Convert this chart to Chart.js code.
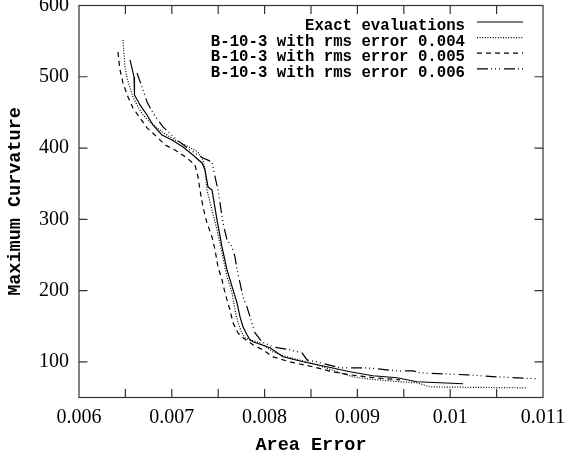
<!DOCTYPE html>
<html><head><meta charset="utf-8">
<script src="https://cdn.jsdelivr.net/npm/chart.js@4/dist/chart.umd.min.js"></script>
<style>html,body{margin:0;padding:0;background:#fff}#wrap{width:565px;height:456px}</style>
</head><body><div id="wrap"><canvas id="c" width="565" height="456"></canvas></div>
<script>
const seriesLabels = ['Exact evaluations', 'B-10-3 with rms error 0.004', 'B-10-3 with rms error 0.005', 'B-10-3 with rms error 0.006'];

const exactX = [0.006550,0.006593,0.006593,0.006603,0.006657,0.006733,0.006797,0.006894,0.007002,0.007121,0.007228,0.007325,0.007358,0.007390,0.007433,0.007487,0.007541,0.007595,0.007660,0.007703,0.007735,0.007767,0.007810,0.007843,0.007875,0.008058,0.008198,0.008414,0.008672,0.008920,0.009168,0.009427,0.009642,0.010138];
const exactY = [523.6,499.7,485.7,474.5,460.5,446.4,432.4,418.4,411.4,401.5,390.3,379.1,369.3,345.5,341.2,299.2,261.3,229.1,201.0,182.8,163.2,149.2,138.0,131.0,128.2,119.8,107.1,100.2,93.1,86.1,80.5,77.7,72.1,69.3];

const rms004X = [0.006474,0.006485,0.006496,0.006517,0.006550,0.006582,0.006636,0.006690,0.006765,0.006841,0.006927,0.007035,0.007164,0.007282,0.007336,0.007358,0.007379,0.007433,0.007487,0.007541,0.007595,0.007649,0.007681,0.007713,0.007756,0.007789,0.007843,0.007950,0.008091,0.008241,0.008457,0.008629,0.008813,0.008953,0.009103,0.009459,0.009642,0.009782,0.010828];
const rms004Y = [551.6,530.6,513.7,498.3,484.3,471.7,457.6,446.4,436.6,428.2,419.8,411.4,402.9,394.5,383.3,369.3,341.2,313.2,285.1,252.9,219.2,196.8,172.9,154.7,140.7,133.7,131.0,126.7,114.0,107.0,100.0,93.0,84.6,79.0,76.2,72.0,70.6,64.9,63.5];

const rms005X = [0.006420,0.006431,0.006442,0.006474,0.006528,0.006582,0.006657,0.006733,0.006841,0.006927,0.007035,0.007164,0.007250,0.007282,0.007304,0.007336,0.007379,0.007433,0.007466,0.007498,0.007541,0.007573,0.007627,0.007660,0.007713,0.007767,0.007875,0.007983,0.008091,0.008274,0.008522,0.008737,0.008920,0.009190,0.009459];
const rms005Y = [534.8,520.8,509.5,491.3,471.7,456.2,442.2,428.2,415.6,404.4,397.3,386.1,376.3,359.5,341.2,317.4,294.9,275.3,257.1,233.2,215.0,196.8,172.9,154.7,140.7,133.7,123.9,116.8,107.0,100.0,93.0,86.0,81.8,77.6,74.8];

const rms006X = [0.006625,0.006679,0.006733,0.006797,0.006905,0.007056,0.007196,0.007336,0.007433,0.007466,0.007498,0.007519,0.007552,0.007595,0.007649,0.007681,0.007703,0.007735,0.007767,0.007810,0.007843,0.007875,0.007897,0.007972,0.008091,0.008274,0.008403,0.008457,0.008565,0.008813,0.009103,0.009427,0.009599,0.009675,0.010181,0.010504,0.010946];
const rms006Y = [505.3,485.7,464.7,449.2,429.6,411.4,397.3,386.1,380.5,359.5,341.2,323.0,294.9,271.1,261.3,247.3,229.0,210.8,191.2,177.1,163.1,149.2,140.7,128.1,121.0,116.8,112.6,102.7,100.0,91.6,91.6,87.4,87.4,84.6,81.8,79.0,76.2];

const xTickValues = [0.006,0.0065,0.007,0.0075,0.008,0.0085,0.009,0.0095,0.010,0.0105,0.011];
const xTickLabels = ['0.006','','0.007','','0.008','','0.009','','0.01','','0.011'];
const yTickValues = [100,200,300,400,500,600];
const yTickLabels = ['100','200','300','400','500','600'];

const toPts = (xs, ys) => xs.map((v, i) => ({x: v, y: ys[i]}));

const framePlugin = {
  id: 'frame',
  afterDatasetsDraw(chart) {
    const {ctx, chartArea: a, scales: {x, y}} = chart;
    ctx.save();
    ctx.strokeStyle = '#333';
    ctx.lineWidth = 1.2;
    ctx.setLineDash([]);
    ctx.strokeRect(a.left, a.top, a.right - a.left, a.bottom - a.top);
    const L = 8.5;
    ctx.beginPath();
    x.ticks.forEach(t => {
      const p = x.getPixelForValue(t.value);
      if (p <= a.left + 1 || p >= a.right - 1) return;
      ctx.moveTo(p, a.bottom); ctx.lineTo(p, a.bottom - L);
      ctx.moveTo(p, a.top); ctx.lineTo(p, a.top + L);
    });
    y.ticks.forEach(t => {
      const p = y.getPixelForValue(t.value);
      if (p <= a.top + 1 || p >= a.bottom - 1) return;
      ctx.moveTo(a.left, p); ctx.lineTo(a.left + L, p);
      ctx.moveTo(a.right, p); ctx.lineTo(a.right - L, p);
    });
    ctx.stroke();
    ctx.font = 'bold 15.7px "Liberation Mono"';
    ctx.textAlign = 'right';
    ctx.textBaseline = 'middle';
    ctx.fillStyle = '#000';
    chart.data.datasets.forEach((ds, i) => {
      const ty = a.top + 20.5 + i * 15.6;
      ctx.fillText(ds.label, a.right - 78, ty);
      ctx.beginPath();
      ctx.setLineDash(ds.borderDash || []);
      ctx.lineWidth = ds.borderWidth;
      ctx.strokeStyle = ds.borderColor;
      ctx.moveTo(a.right - 66, ty - 4);
      ctx.lineTo(a.right - 20, ty - 4);
      ctx.stroke();
    });
    ctx.restore();
  }
};

const mk = (label, pts, dash) => ({
  label, data: pts, showLine: true, borderColor: '#000', backgroundColor: '#000',
  borderWidth: 1.2, borderDash: dash, pointRadius: 0, tension: 0, fill: false
});

new Chart(document.getElementById('c'), {
  type: 'scatter',
  data: {
    datasets: [
      mk(seriesLabels[0], toPts(exactX, exactY), []),
      mk(seriesLabels[1], toPts(rms004X, rms004Y), [1, 1.6]),
      mk(seriesLabels[2], toPts(rms005X, rms005Y), [5, 4]),
      mk(seriesLabels[3], toPts(rms006X, rms006Y), [11, 3, 1, 3, 1, 3, 1, 4])
    ]
  },
  options: {
    responsive: false,
    animation: false,
    devicePixelRatio: 1,
    layout: {padding: {left: 0, top: 5.5, right: 22, bottom: 0}},
    plugins: {legend: {display: false}, tooltip: {enabled: false}},
    scales: {
      x: {
        type: 'linear', min: 0.006, max: 0.011,
        afterBuildTicks: s => { s.ticks = xTickValues.map(v => ({value: v})); },
        afterFit: s => { s.height = 58.5; s.paddingLeft = 0; s.paddingRight = 0; },
        grid: {display: false, drawTicks: false},
        border: {display: false},
        ticks: {
          autoSkip: false, maxRotation: 0, padding: 8, color: '#000',
          font: {family: '"Liberation Serif"', size: 20},
          callback: (v, i) => xTickLabels[i]
        },
        title: {display: true, text: 'Area Error', color: '#000',
          font: {family: '"Liberation Mono"', size: 18.5, weight: 'bold'}, padding: {top: 0, bottom: 0}}
      },
      y: {
        type: 'linear', min: 50, max: 600,
        afterBuildTicks: s => { s.ticks = yTickValues.map(v => ({value: v})); },
        afterFit: s => { s.width = 79; s.paddingTop = 0; s.paddingBottom = 0; },
        grid: {display: false, drawTicks: false},
        border: {display: false},
        ticks: {
          autoSkip: false, padding: 10, color: '#000',
          font: {family: '"Liberation Serif"', size: 20},
          callback: (v, i) => yTickLabels[i]
        },
        title: {display: true, text: 'Maximum Curvature', color: '#000',
          font: {family: '"Liberation Mono"', size: 18.5, weight: 'bold'}, padding: {top: 4, bottom: 0}}
      }
    }
  },
  plugins: [framePlugin]
});
</script>
</body></html>
